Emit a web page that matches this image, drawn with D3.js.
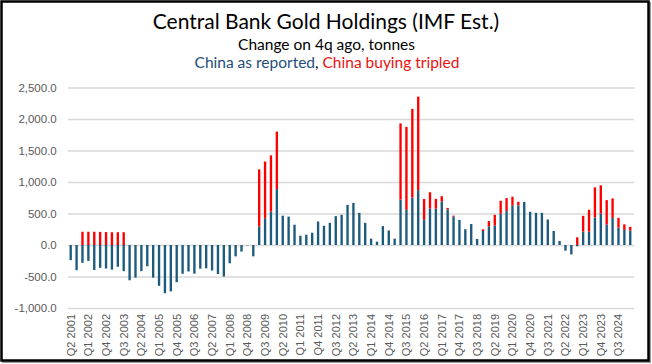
<!DOCTYPE html>
<html>
<head>
<meta charset="utf-8">
<script src="https://cdnjs.cloudflare.com/ajax/libs/d3/7.8.5/d3.min.js"></script>
<style>
  body { margin: 0; background: #fff; }
  svg { display: block; }
</style>
</head>
<body>
<div id="chart-area"></div>
<script>
// quarters, Q2 2001 .. Q1 2025
const quarters = [
  "Q2 2001", "Q3 2001", "Q4 2001", "Q1 2002", "Q2 2002", "Q3 2002", "Q4 2002", "Q1 2003", "Q2 2003", "Q3 2003", "Q4 2003", "Q1 2004",
  "Q2 2004", "Q3 2004", "Q4 2004", "Q1 2005", "Q2 2005", "Q3 2005", "Q4 2005", "Q1 2006", "Q2 2006", "Q3 2006", "Q4 2006", "Q1 2007",
  "Q2 2007", "Q3 2007", "Q4 2007", "Q1 2008", "Q2 2008", "Q3 2008", "Q4 2008", "Q1 2009", "Q2 2009", "Q3 2009", "Q4 2009", "Q1 2010",
  "Q2 2010", "Q3 2010", "Q4 2010", "Q1 2011", "Q2 2011", "Q3 2011", "Q4 2011", "Q1 2012", "Q2 2012", "Q3 2012", "Q4 2012", "Q1 2013",
  "Q2 2013", "Q3 2013", "Q4 2013", "Q1 2014", "Q2 2014", "Q3 2014", "Q4 2014", "Q1 2015", "Q2 2015", "Q3 2015", "Q4 2015", "Q1 2016",
  "Q2 2016", "Q3 2016", "Q4 2016", "Q1 2017", "Q2 2017", "Q3 2017", "Q4 2017", "Q1 2018", "Q2 2018", "Q3 2018", "Q4 2018", "Q1 2019",
  "Q2 2019", "Q3 2019", "Q4 2019", "Q1 2020", "Q2 2020", "Q3 2020", "Q4 2020", "Q1 2021", "Q2 2021", "Q3 2021", "Q4 2021", "Q1 2022",
  "Q2 2022", "Q3 2022", "Q4 2022", "Q1 2023", "Q2 2023", "Q3 2023", "Q4 2023", "Q1 2024", "Q2 2024", "Q3 2024", "Q4 2024", "Q1 2025"
];

// change on 4q ago, tonnes, China as reported
const reported = [
  -240, -400, -283, -252, -397, -363, -373, -391, -345, -415, -560, -518,
  -415, -337, -518, -648, -765, -737, -590, -457, -420, -455, -375, -370,
  -405, -460, -500, -290, -180, -105, -5, -180, 294, 426, 530, 887,
  465, 450, 322, 147, 163, 195, 373, 305, 352, 458, 479, 637,
  668, 510, 352, 100, 53, 300, 231, 100, 721, 559, 755, 870,
  400, 577, 577, 688, 565, 452, 399, 250, 333, 96, 223, 293,
  309, 495, 538, 630, 630, 684, 527, 511, 511, 405, 223, 64,
  -90, -149, -20, 213, 213, 437, 498, 325, 431, 277, 239, 229
];

// extra tonnes if China buying is tripled
const extra = [
  0, 0, 210, 210, 210, 208, 205, 203, 203, 203, 0, 0,
  0, 0, 0, 0, 0, 0, 0, 0, 0, 0, 0, 0,
  0, 0, 0, 0, 0, 0, 0, 0, 906, 899, 893, 913,
  0, 0, 0, 0, 0, 0, 0, 0, 0, 0, 0, 0,
  0, 0, 0, 0, 0, 0, 0, 0, 1209, 1316, 1405, 1485,
  330, 261, 156, 87, 23, 14, 0, 0, 0, 0, 27, 87,
  170, 207, 207, 136, 56, 0, 0, 0, 0, 0, 0, 0,
  0, 0, 122, 250, 346, 478, 449, 388, 308, 154, 89, 59
];

const yTicks = [-1000, -500, 0, 500, 1000, 1500, 2000, 2500];

const W = 652, H = 364;
const plot = { left: 67.75, right: 633.2, top: 87.5, bottom: 308 };

const svg = d3.select("#chart-area")
  .append("svg")
  .attr("width", W)
  .attr("height", H);

// frame
svg.append("rect")
  .attr("x", 3).attr("y", 3)
  .attr("width", W - 5).attr("height", H - 5)
  .attr("fill", "none")
  .attr("stroke", "#9a9a9a")
  .attr("stroke-width", 2);
svg.append("rect")
  .attr("x", 1.5).attr("y", 1.5)
  .attr("width", W - 5).attr("height", H - 5)
  .attr("fill", "#fff")
  .attr("stroke", "#000")
  .attr("stroke-width", 2.5);

// titles
const titleFont = "Lato, 'Open Sans', sans-serif";
svg.append("text")
  .attr("x", 326).attr("y", 29)
  .attr("text-anchor", "middle")
  .attr("font-family", titleFont)
  .attr("font-size", "21px")
  .attr("fill", "#000")
  .text("Central Bank Gold Holdings (IMF Est.)");

svg.append("text")
  .attr("x", 326.5).attr("y", 50)
  .attr("text-anchor", "middle")
  .attr("font-family", titleFont)
  .attr("font-size", "15.5px")
  .attr("fill", "#000")
  .text("Change on 4q ago, tonnes");

const legend = svg.append("text")
  .attr("x", 327).attr("y", 68)
  .attr("text-anchor", "middle")
  .attr("font-family", titleFont)
  .attr("font-size", "15.5px");
legend.append("tspan").attr("fill", "#1f4e79").text("China as reported");
legend.append("tspan").attr("fill", "#000").text(", ");
legend.append("tspan").attr("fill", "#ee1111").text("China buying tripled");

// scales
const x = d3.scaleBand()
  .domain(quarters)
  .range([plot.left, plot.right])
  .paddingInner(0.6)
  .paddingOuter(0.3);

const y = d3.scaleLinear()
  .domain([-1000, 2500])
  .range([plot.bottom, plot.top]);

const fmt = d3.formatLocale({
  decimal: ".", thousands: ",", grouping: [3], currency: ["", ""], minus: "-"
}).format(",.1f");

// y axis with gridlines
const yAxisGroup = svg.append("g")
  .attr("transform", `translate(${plot.left}, 0)`)
  .call(d3.axisLeft(y)
    .tickValues(yTicks)
    .tickSize(-(plot.right - plot.left + 1))
    .tickPadding(11)
    .tickFormat(fmt));

yAxisGroup.select(".domain").remove();
yAxisGroup.selectAll(".tick line")
  .attr("stroke", "#d9d9d9")
  .attr("stroke-width", 1.3);
yAxisGroup.selectAll(".tick text")
  .attr("font-family", "'Liberation Sans', Arial, sans-serif")
  .attr("font-size", "11.5px")
  .attr("fill", "#595959");

// stacked bars
const table = quarters.map((q, i) => ({ quarter: q, reported: reported[i], extra: extra[i] }));
const series = d3.stack()
  .keys(["reported", "extra"])
  .offset(d3.stackOffsetDiverging)(table);

const colors = { reported: "#1c5b7c", extra: "#ff0000" };

svg.append("g")
  .selectAll("g")
  .data(series)
  .join("g")
  .attr("fill", d => colors[d.key])
  .selectAll("rect")
  .data(d => d)
  .join("rect")
  .attr("x", d => x(d.data.quarter))
  .attr("width", x.bandwidth())
  .attr("y", d => y(Math.max(d[0], d[1])))
  .attr("height", d => Math.abs(y(d[0]) - y(d[1])));

// x axis labels, every third quarter
const xAxisGroup = svg.append("g")
  .attr("transform", `translate(0, ${plot.bottom})`)
  .call(d3.axisBottom(x)
    .tickValues(quarters.filter((q, i) => i % 3 === 0))
    .tickSize(0));

xAxisGroup.select(".domain").remove();
xAxisGroup.selectAll(".tick text")
  .attr("transform", "rotate(-90)")
  .attr("x", -6)
  .attr("y", 0)
  .attr("dy", "0.35em")
  .style("text-anchor", "end")
  .attr("font-family", "'Liberation Sans', Arial, sans-serif")
  .attr("font-size", "11px")
  .attr("fill", "#595959");
</script>
</body>
</html>
